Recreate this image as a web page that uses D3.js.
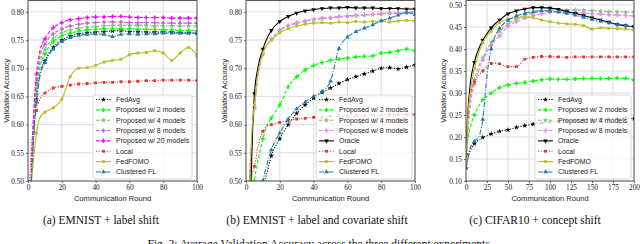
<!DOCTYPE html>
<html>
<head>
<meta charset="utf-8">
<script src="https://cdn.jsdelivr.net/npm/d3@7"></script>
<style>
  body { margin: 0; background: #fff; }
  svg { display: block; }
</style>
</head>
<body>
<div id="chart"></div>
<script>
// ---- data ----
const roundsAB = [1,2,3,4,5,7,10,12,15,20,25,30,35,40,45,50,55,60,65,70,75,80,85,90,95,100];
const roundsC = [0,2,5,10,15,20,25,30,35,40,50,60,70,80,90,100,110,120,130,140,150,160,170,180,190,200];

const xTicksAB = [0,20,40,60,80,100];
const xTicksC = [0,25,50,75,100,125,150,175,200];
const yTicksAB = [0.50,0.55,0.60,0.65,0.70,0.75,0.80];
const yTicksC = [0.10,0.15,0.20,0.25,0.30,0.35,0.40,0.45,0.50];

// (a) EMNIST + label shift
const fedAvgA    = [0.40,0.50,0.56,0.61,0.645,0.69,0.713,0.725,0.737,0.750,0.757,0.761,0.763,0.764,0.765,0.766,0.767,0.765,0.765,0.764,0.764,0.764,0.764,0.763,0.763,0.762];
const prop2A     = [0.40,0.50,0.57,0.62,0.655,0.70,0.725,0.736,0.747,0.757,0.762,0.766,0.768,0.769,0.770,0.770,0.770,0.770,0.769,0.769,0.769,0.768,0.768,0.767,0.767,0.766];
const prop4A     = [0.40,0.51,0.58,0.63,0.665,0.71,0.733,0.743,0.753,0.763,0.768,0.771,0.773,0.774,0.775,0.776,0.776,0.776,0.776,0.776,0.775,0.775,0.775,0.775,0.775,0.775];
const prop8A     = [0.40,0.51,0.59,0.64,0.675,0.72,0.742,0.752,0.761,0.770,0.775,0.778,0.780,0.781,0.782,0.782,0.782,0.781,0.781,0.781,0.781,0.780,0.780,0.780,0.780,0.780];
const prop20A    = [0.41,0.52,0.60,0.655,0.69,0.73,0.752,0.762,0.772,0.781,0.786,0.788,0.790,0.791,0.791,0.792,0.792,0.791,0.790,0.790,0.790,0.790,0.789,0.789,0.789,0.789];
const localA     = [0.50,0.56,0.59,0.61,0.625,0.645,0.656,0.660,0.665,0.668,0.670,0.672,0.673,0.674,0.675,0.675,0.676,0.676,0.677,0.678,0.678,0.679,0.679,0.679,0.679,0.678];
const fedFomoA   = [0.45,0.50,0.53,0.56,0.585,0.612,0.622,0.625,0.630,0.645,0.685,0.700,0.701,0.705,0.711,0.714,0.716,0.724,0.727,0.728,0.731,0.727,0.714,0.727,0.737,0.722];
const clusteredA = [0.40,0.50,0.56,0.605,0.64,0.685,0.71,0.722,0.734,0.747,0.754,0.758,0.760,0.761,0.760,0.756,0.760,0.761,0.760,0.761,0.761,0.762,0.762,0.762,0.762,0.762];

// (b) EMNIST + label and covariate shift
const fedAvgB    = [0.30,0.33,0.36,0.38,0.40,0.43,0.49,0.51,0.545,0.575,0.60,0.62,0.635,0.647,0.657,0.665,0.673,0.680,0.685,0.690,0.695,0.700,0.701,0.699,0.702,0.706];
const prop2B     = [0.35,0.40,0.44,0.47,0.50,0.535,0.575,0.595,0.612,0.635,0.667,0.685,0.697,0.705,0.710,0.714,0.716,0.718,0.720,0.721,0.722,0.727,0.728,0.731,0.734,0.731];
const prop4B     = [0.40,0.48,0.55,0.60,0.63,0.684,0.724,0.739,0.751,0.767,0.775,0.780,0.783,0.786,0.788,0.789,0.791,0.792,0.793,0.794,0.795,0.796,0.797,0.797,0.798,0.799];
const prop8B     = [0.40,0.48,0.55,0.60,0.63,0.685,0.725,0.740,0.752,0.768,0.776,0.781,0.784,0.787,0.789,0.790,0.792,0.793,0.794,0.795,0.796,0.797,0.798,0.798,0.799,0.800];
const oracleB    = [0.40,0.46,0.50,0.60,0.655,0.70,0.734,0.750,0.767,0.783,0.792,0.798,0.802,0.804,0.806,0.807,0.807,0.808,0.807,0.807,0.807,0.806,0.806,0.806,0.805,0.805];
const localB     = [0.44,0.47,0.50,0.515,0.526,0.56,0.588,0.596,0.600,0.604,0.607,0.610,0.611,0.613,0.613,0.614,0.615,0.615,0.616,0.616,0.617,0.617,0.618,0.618,0.618,0.618];
const fedFomoB   = [0.40,0.50,0.56,0.61,0.635,0.69,0.728,0.740,0.750,0.763,0.770,0.775,0.778,0.780,0.781,0.780,0.782,0.781,0.783,0.782,0.783,0.784,0.782,0.784,0.785,0.784];
const clusteredB = [0.30,0.33,0.36,0.39,0.41,0.45,0.50,0.525,0.555,0.585,0.610,0.628,0.640,0.650,0.659,0.677,0.735,0.755,0.765,0.771,0.777,0.784,0.789,0.794,0.799,0.795];

// (c) CIFAR10 + concept shift
const fedAvgC    = [0.13,0.15,0.168,0.185,0.193,0.199,0.203,0.207,0.210,0.213,0.216,0.222,0.226,0.229,0.232,0.234,0.236,0.237,0.238,0.239,0.240,0.240,0.241,0.241,0.242,0.242];
const prop2C     = [0.15,0.19,0.22,0.25,0.27,0.285,0.293,0.300,0.307,0.312,0.318,0.322,0.324,0.327,0.330,0.332,0.331,0.331,0.332,0.333,0.333,0.333,0.333,0.334,0.333,0.329];
const prop4C     = [0.13,0.20,0.28,0.33,0.36,0.38,0.40,0.415,0.43,0.44,0.457,0.468,0.476,0.482,0.486,0.488,0.489,0.489,0.489,0.488,0.487,0.486,0.485,0.485,0.484,0.484];
const prop8C     = [0.13,0.20,0.27,0.32,0.35,0.375,0.393,0.408,0.42,0.43,0.451,0.462,0.470,0.476,0.480,0.483,0.484,0.484,0.483,0.482,0.480,0.479,0.478,0.477,0.476,0.475];
const oracleC    = [0.16,0.25,0.32,0.37,0.40,0.42,0.435,0.448,0.458,0.466,0.480,0.487,0.491,0.494,0.494,0.493,0.490,0.485,0.481,0.476,0.471,0.466,0.461,0.456,0.453,0.451];
const localC     = [0.16,0.25,0.295,0.325,0.34,0.35,0.36,0.367,0.368,0.366,0.360,0.360,0.377,0.381,0.383,0.383,0.382,0.381,0.382,0.382,0.382,0.382,0.382,0.382,0.382,0.382];
const fedFomoC   = [0.15,0.24,0.30,0.355,0.39,0.415,0.43,0.44,0.452,0.46,0.468,0.471,0.473,0.471,0.466,0.462,0.459,0.457,0.456,0.453,0.445,0.448,0.447,0.446,0.445,0.443];
const clusteredC = [0.13,0.15,0.175,0.19,0.20,0.24,0.34,0.40,0.43,0.447,0.465,0.475,0.481,0.485,0.487,0.486,0.484,0.481,0.477,0.472,0.467,0.463,0.459,0.456,0.453,0.450];

const labelsA  = ["FedAvg","Proposed w/ 2 models","Proposed w/ 4 models","Proposed w/ 8 models","Proposed w/ 20 models","Local","FedFOMO","Clustered FL"];
const labelsBC = ["FedAvg","Proposed w/ 2 models","Proposed w/ 4 models","Proposed w/ 8 models","Oracle","Local","FedFOMO","Clustered FL"];
const captions = ["(a) EMNIST + label shift","(b) EMNIST + label and covariate shift","(c) CIFAR10 + concept shift"];
const figCaption = "Fig. 2: Average Validation Accuracy across the three different experiments.";

// ---- styles ----
const DOT = "1.1,1.6", DASH = "3.6,1.8", DASHDOT = "5,1.6,1.1,1.6";
const styleOf = {
  "FedAvg":                {color:"#000000", dash:DOT,     marker:"star"},
  "Proposed w/ 2 models":  {color:"#00ff00", dash:DASH,    marker:"plus"},
  "Proposed w/ 4 models":  {color:"#80bd80", dash:DASH,    marker:"star"},
  "Proposed w/ 8 models":  {color:"#ee82ee", dash:DASH,    marker:"plus"},
  "Proposed w/ 20 models": {color:"#ff00ff", dash:DASH,    marker:"plus"},
  "Oracle":                {color:"#000000", dash:null,    marker:"triDown"},
  "Local":                 {color:"#e3342f", dash:DOT,     marker:"square"},
  "FedFOMO":               {color:"#bcbd22", dash:null,    marker:"square"},
  "Clustered FL":          {color:"#1f77b4", dash:DASHDOT, marker:"triUp"}
};

const panels = [
  {x0:28, x1:197, xDomain:[0,100], yDomain:[0.5,0.82], xTicks:xTicksAB, yTicks:yTicksAB, rounds:roundsAB, step:5,
   labels:labelsA, values:[fedAvgA,prop2A,prop4A,prop8A,prop20A,localA,fedFomoA,clusteredA],
   legend:{x:93, y:95, w:99, h:84}, yLabelX:6, capX:101, override:{"Proposed w/ 8 models":"#b46eb4"}},
  {x0:246, x1:415, xDomain:[0,100], yDomain:[0.5,0.82], xTicks:xTicksAB, yTicks:yTicksAB, rounds:roundsAB, step:5,
   labels:labelsBC, values:[fedAvgB,prop2B,prop4B,prop8B,oracleB,localB,fedFomoB,clusteredB],
   legend:{x:316, y:95, w:96, h:84}, yLabelX:224, capX:317, override:{}},
  {x0:466, x1:634, xDomain:[0,200], yDomain:[0.1,0.51], xTicks:xTicksC, yTicks:yTicksC, rounds:roundsC, step:10,
   labels:labelsBC, values:[fedAvgC,prop2C,prop4C,prop8C,oracleC,localC,fedFomoC,clusteredC],
   legend:{x:535, y:95, w:96, h:84}, yLabelX:443, capX:535, override:{}}
];

const W = 640, H = 244, yBottom = 181, yTop = 0.6;
const SERIF = "'Liberation Serif', 'Times New Roman', serif";
const SANS = "'Liberation Sans', Arial, sans-serif";

const svg = d3.select("#chart").append("svg")
    .attr("width", W).attr("height", H);

function markerPath(type) {
  switch (type) {
    case "square":  return d3.symbol(d3.symbolSquare, 8)();
    case "triUp":   return d3.symbol(d3.symbolTriangle, 9)();
    case "triDown": return d3.symbol(d3.symbolTriangle, 9)();
    case "star":    return d3.symbol(d3.symbolStar, 9)();
    case "plus":    return d3.symbol(d3.symbolCross, 10)();
  }
}

function addMarker(g, type, cx, cy, color) {
  g.append("path")
    .attr("d", markerPath(type))
    .attr("transform", `translate(${cx},${cy})` + (type === "triDown" ? " rotate(180)" : ""))
    .attr("fill", color);
}

panels.forEach((p, pi) => {
  const x = d3.scaleLinear().domain(p.xDomain).range([p.x0, p.x1]);
  const y = d3.scaleLinear().domain(p.yDomain).range([yBottom, yTop]);
  const g = svg.append("g");

  // grid
  g.append("g").selectAll("line").data(p.xTicks).join("line")
      .attr("x1", d => x(d)).attr("x2", d => x(d))
      .attr("y1", yTop).attr("y2", yBottom)
      .attr("stroke", "#d4d4d4").attr("stroke-width", 0.8);
  g.append("g").selectAll("line").data(p.yTicks).join("line")
      .attr("x1", p.x0).attr("x2", p.x1)
      .attr("y1", d => y(d)).attr("y2", d => y(d))
      .attr("stroke", "#d4d4d4").attr("stroke-width", 0.8);

  // axes
  const xAxis = g.append("g")
      .attr("transform", `translate(0,${yBottom})`)
      .call(d3.axisBottom(x).tickValues(p.xTicks).tickSize(2).tickPadding(2).tickFormat(d3.format("d")));
  const yAxis = g.append("g")
      .attr("transform", `translate(${p.x0},0)`)
      .call(d3.axisLeft(y).tickValues(p.yTicks).tickSize(2).tickPadding(2).tickFormat(d3.format(".2f")));
  [xAxis, yAxis].forEach(a => {
    a.select(".domain").remove();
    a.selectAll("line").attr("stroke", "#333").attr("stroke-width", 0.7);
    a.selectAll("text").style("font-family", SERIF).style("font-size", "7.3px").attr("fill", "#222");
  });

  // clip
  const clipId = "clip" + pi;
  svg.append("clipPath").attr("id", clipId)
    .append("rect").attr("x", p.x0).attr("y", yTop)
    .attr("width", p.x1 - p.x0).attr("height", yBottom - yTop);

  const plot = g.append("g").attr("clip-path", `url(#${clipId})`);
  const line = d3.line()
      .x(d => x(d[0])).y(d => y(d[1]))
      .curve(d3.curveMonotoneX);

  p.labels.forEach((name, si) => {
    const st = styleOf[name];
    const color = p.override[name] || st.color;
    const pts = p.rounds.map((r, i) => [r, p.values[si][i]]);
    plot.append("path")
      .datum(pts)
      .attr("d", line)
      .attr("fill", "none")
      .attr("stroke", color)
      .attr("stroke-width", 1.1)
      .attr("stroke-dasharray", st.dash);
    const mg = plot.append("g");
    pts.filter(d => d[0] % p.step === 0).forEach(d => addMarker(mg, st.marker, x(d[0]), y(d[1]), color));
  });

  // frame
  g.append("rect")
    .attr("x", p.x0).attr("y", yTop)
    .attr("width", p.x1 - p.x0).attr("height", yBottom - yTop)
    .attr("fill", "none").attr("stroke", "#333").attr("stroke-width", 0.8);

  // axis labels
  g.append("text")
    .attr("x", (p.x0 + p.x1) / 2).attr("y", 201)
    .attr("text-anchor", "middle")
    .style("font-family", SANS).style("font-size", "7.6px").attr("fill", "#222")
    .text("Communication Round");
  g.append("text")
    .attr("transform", `translate(${p.yLabelX},${(yTop + yBottom) / 2}) rotate(-90)`)
    .attr("text-anchor", "middle").attr("dy", "0.35em")
    .style("font-family", SANS).style("font-size", "7.4px").attr("fill", "#222")
    .text("Validation Accuracy");

  // legend
  const L = p.legend;
  const lg = g.append("g");
  lg.append("rect")
    .attr("x", L.x).attr("y", L.y).attr("width", L.w).attr("height", L.h)
    .attr("rx", 2).attr("fill", "#fff").attr("fill-opacity", 0.8)
    .attr("stroke", "#cccccc").attr("stroke-width", 0.7);
  p.labels.forEach((name, i) => {
    const st = styleOf[name];
    const color = p.override[name] || st.color;
    const cy = L.y + 4.5 + i * 10.35;
    lg.append("line")
      .attr("x1", L.x + 3).attr("x2", L.x + 18).attr("y1", cy).attr("y2", cy)
      .attr("stroke", color).attr("stroke-width", 1.1)
      .attr("stroke-dasharray", st.dash);
    addMarker(lg, st.marker, L.x + 10.5, cy, color);
    lg.append("text")
      .attr("x", L.x + 23).attr("y", cy).attr("dy", "0.35em")
      .style("font-family", SANS).style("font-size", "7px").attr("fill", "#222")
      .text(name);
  });

  // sub caption
  svg.append("text")
    .attr("x", p.capX).attr("y", 224)
    .attr("text-anchor", "middle")
    .style("font-family", SERIF).style("font-size", "11.5px").attr("fill", "#111")
    .text(captions[pi]);
});

svg.append("text")
  .attr("x", 320).attr("y", 248)
  .attr("text-anchor", "middle")
  .style("font-family", SERIF).style("font-size", "11.5px").attr("fill", "#111")
  .text(figCaption);
</script>
</body>
</html>
